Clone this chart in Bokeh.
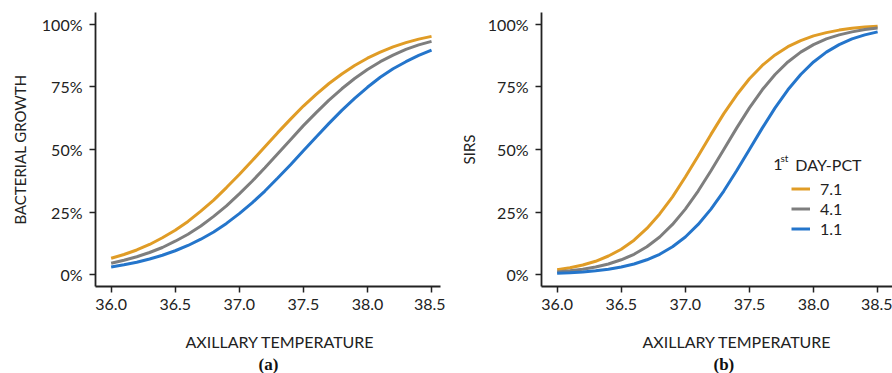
from bokeh.plotting import figure
from bokeh.models import Range1d, FixedTicker, Title, Legend, LegendItem, Label
from bokeh.layouts import row
from bokeh.embed import file_html
from bokeh.resources import INLINE

# ---------------- data ----------------
temperature = [36.0, 36.1, 36.2, 36.3, 36.4, 36.5, 36.6, 36.7, 36.8, 36.9,
               37.0, 37.1, 37.2, 37.3, 37.4, 37.5, 37.6, 37.7, 37.8, 37.9,
               38.0, 38.1, 38.2, 38.3, 38.4, 38.5]

series_names = ["7.1", "4.1", "1.1"]

# (a) bacterial growth, %
growth_pct71 = [6.6, 8.1, 9.9, 12.1, 14.8, 17.8, 21.3, 25.4, 29.8, 34.8,
                40.0, 45.5, 51.1, 56.7, 62.1, 67.3, 72.0, 76.3, 80.1, 83.5,
                86.4, 88.8, 90.9, 92.6, 94.0, 95.1]
growth_pct41 = [4.6, 5.8, 7.2, 8.9, 10.9, 13.4, 16.2, 19.5, 23.3, 27.5,
                32.3, 37.3, 42.7, 48.3, 53.9, 59.5, 64.7, 69.7, 74.2, 78.3,
                81.9, 85.0, 87.6, 89.9, 91.7, 93.1]
growth_pct11 = [3.1, 4.0, 5.0, 6.3, 7.8, 9.6, 11.7, 14.2, 17.1, 20.5,
                24.4, 28.7, 33.4, 38.6, 43.9, 49.5, 55.0, 60.4, 65.6, 70.4,
                74.8, 78.8, 82.2, 85.0, 87.5, 89.6]

# (b) SIRS, %
sirs_pct71 = [2.0, 2.8, 3.9, 5.4, 7.5, 10.2, 13.8, 18.5, 24.3, 31.1,
              39.0, 47.4, 56.0, 64.3, 71.7, 78.2, 83.5, 87.7, 91.0, 93.4,
              95.3, 96.6, 97.6, 98.3, 98.8, 99.1]
sirs_pct41 = [1.1, 1.6, 2.2, 3.1, 4.3, 6.0, 8.2, 11.2, 15.1, 20.1,
              26.2, 33.4, 41.5, 50.0, 58.5, 66.6, 73.8, 79.9, 84.9, 88.8,
              91.8, 94.1, 95.7, 96.9, 97.8, 98.4]
sirs_pct11 = [0.6, 0.8, 1.1, 1.6, 2.2, 3.1, 4.3, 6.0, 8.2, 11.2,
              15.1, 20.1, 26.2, 33.4, 41.5, 50.0, 58.5, 66.6, 73.8, 79.9,
              84.9, 88.8, 91.8, 94.1, 95.7, 96.9]

x_ticks = [36.0, 36.5, 37.0, 37.5, 38.0, 38.5]
x_tick_labels = ["36.0", "36.5", "37.0", "37.5", "38.0", "38.5"]
y_ticks = [0, 25, 50, 75, 100]
y_tick_labels = ["0%", "25%", "50%", "75%", "100%"]

# ---------------- style ----------------
colors = ["#E09C26", "#7E7E7E", "#2475CB"]
FONT = "Lato"
DARK = "#222222"


def make_panel(width, b_left, b_right, x_end, ylabel, ylabel_standoff, series,
               xlabel_offset, tag, tag_offset):
    p = figure(width=width, height=373,
               x_range=Range1d(35.878, x_end), y_range=Range1d(-4.66, 104.62),
               output_backend="svg", toolbar_location=None,
               min_border_left=b_left, min_border_right=b_right,
               min_border_top=12, min_border_bottom=87)
    p.outline_line_color = None
    p.grid.visible = False
    p.background_fill_color = "white"
    p.border_fill_color = "white"

    for ax in (p.xaxis[0], p.yaxis[0]):
        ax.axis_line_color = DARK
        ax.axis_line_width = 1.8
        ax.major_tick_line_color = DARK
        ax.major_tick_line_width = 1.5
        ax.major_tick_in = 0
        ax.major_tick_out = 6
        ax.minor_tick_line_color = None
        ax.major_label_text_font = FONT
        ax.major_label_text_font_size = "16px"
        ax.major_label_text_color = DARK

    p.xaxis.ticker = FixedTicker(ticks=x_ticks)
    p.xaxis.major_label_overrides = dict(zip(x_ticks, x_tick_labels))
    p.xaxis.major_label_standoff = 6
    p.yaxis.ticker = FixedTicker(ticks=y_ticks)
    p.yaxis.major_label_overrides = dict(zip(y_ticks, y_tick_labels))
    p.yaxis.major_label_standoff = 7
    p.yaxis.axis_label = ylabel
    p.yaxis.axis_label_text_font = FONT
    p.yaxis.axis_label_text_font_size = "15px"
    p.yaxis.axis_label_text_font_style = "normal"
    p.yaxis.axis_label_text_color = DARK
    p.yaxis.axis_label_standoff = ylabel_standoff

    renderers = []
    for ys, c in zip(series, colors):
        r = p.line(temperature, ys, line_color=c, line_width=3)
        renderers.append(r)

    spacer = Title(text=" ", text_font_size="1px", standoff=13)
    p.add_layout(spacer, "below")
    t1 = Title(text="AXILLARY TEMPERATURE", align="left", offset=xlabel_offset,
               text_font=FONT, text_font_size="16px", text_font_style="normal",
               text_color=DARK, standoff=3)
    p.add_layout(t1, "below")
    t2 = Title(text=tag, align="left", offset=tag_offset,
               text_font="Liberation Serif", text_font_size="17px",
               text_font_style="bold", text_color="#111111", standoff=0)
    p.add_layout(t2, "below")
    return p, renderers


pa, _ = make_panel(445, 95, 5, 38.57, "BACTERIAL GROWTH", 10,
                   [growth_pct71, growth_pct41, growth_pct11], 90, "(a)", 163)
pb, rb = make_panel(447, 96, 0, 38.616, "SIRS", 7,
                    [sirs_pct71, sirs_pct41, sirs_pct11], 101, "(b)", 172)

legend = Legend(items=[LegendItem(label=n, renderers=[r]) for n, r in zip(series_names, rb)],
                location=(250, 48), orientation="vertical",
                glyph_width=19, glyph_height=19, label_height=19, label_standoff=10,
                spacing=1, padding=0, margin=0,
                border_line_alpha=0, background_fill_alpha=0,
                label_text_font=FONT, label_text_font_size="16px", label_text_color=DARK)
pb.add_layout(legend)

# legend title "1st DAY-PCT" with superscript
pb.add_layout(Label(x=37.685, y=43.9, text="1", text_font=FONT, text_font_size="16px",
                    text_color=DARK, text_baseline="alphabetic", text_align="left"))
pb.add_layout(Label(x=37.742, y=46.6, text="st", text_font=FONT, text_font_size="10px",
                    text_color=DARK, text_baseline="alphabetic", text_align="left"))
pb.add_layout(Label(x=37.858, y=43.9, text="DAY-PCT", text_font=FONT, text_font_size="16px",
                    text_color=DARK, text_baseline="alphabetic", text_align="left"))

layout = row(pa, pb)
open("out.html", "w").write(file_html(layout, INLINE))
